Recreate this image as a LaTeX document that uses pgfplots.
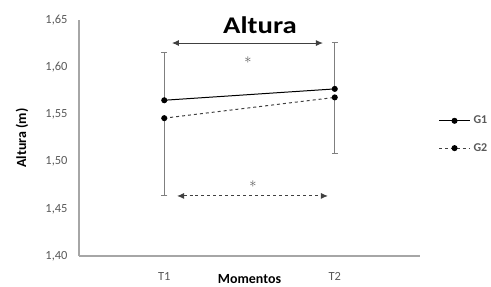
\documentclass[border=0pt]{standalone}
\usepackage{pgfplots}
\pgfplotsset{compat=1.18}
\usepackage{fontspec}
\setmainfont{Carlito}
\usetikzlibrary{arrows.meta}
\definecolor{axgray}{HTML}{A6A6A6}
\definecolor{txtgray}{HTML}{595959}
\definecolor{ebgray}{HTML}{7F7F7F}
\begin{document}
\begin{tikzpicture}
\useasboundingbox (0,0) rectangle (491bp,287bp);
\node[font=\bfseries\fontsize{24}{28}\selectfont, xscale=1.2] at (260bp,262bp) {Altura};
\begin{axis}[
  at={(79bp,31bp)}, anchor=south west,
  scale only axis, width=341bp, height=236bp,
  xmin=0, xmax=2, ymin=1.40, ymax=1.65,
  axis x line*=bottom, axis y line*=left,
  axis line style={axgray, line width=1.2pt, -},
  xtick={0.5,1.5}, xticklabels={T1,T2},
  ytick={1.40,1.45,1.50,1.55,1.60,1.65},
  major tick length=0pt,
  /pgf/number format/.cd, fixed, fixed zerofill, precision=2, use comma, assume math mode=true,
  /pgfplots/.cd,
  tick label style={font=\fontsize{12.5}{14}\selectfont, text=txtgray},
  yticklabel style={xshift=-8bp},
  xticklabel style={yshift=-13bp},
  xlabel={\textbf{Momentos}}, ylabel={\textbf{Altura (m)}},
  label style={font=\fontsize{14}{16}\selectfont},
  xlabel style={at={(axis description cs:0.5,0)}, anchor=center, yshift=-23bp},
  ylabel style={at={(axis description cs:0,0.5)}, anchor=center, rotate=0, yshift=57bp},
  clip=false,
  legend image code/.code={
    \draw[#1] (0bp,0bp) -- (31bp,0bp);
    \draw[mark repeat=2, mark phase=2, #1] plot coordinates {(0bp,0bp) (15.5bp,0bp) (31bp,0bp)};
  },
  legend style={draw=none, fill=none, at={(1.045,0.515)}, anchor=west,
    font=\fontsize{12}{14}\selectfont\bfseries, text=txtgray, row sep=14bp,
    nodes={inner xsep=3bp}},
  legend cell align=left,
]
\addplot[black, line width=1pt, mark=*, mark size=2.5bp,
  error bars/.cd, y dir=plus, y explicit, error bar style={ebgray, line width=1pt}, error mark options={rotate=90, mark size=3bp, ebgray, line width=1pt}]
  coordinates {(0.5,1.565) +- (0,0.051) (1.5,1.577) +- (0,0.049)};
\addlegendentry{G1}
\addplot[black!75, dashed, line width=1pt, mark=*, mark options={solid, black}, mark size=2.5bp,
  error bars/.cd, y dir=minus, y explicit, error bar style={ebgray, line width=1pt, solid}, error mark options={rotate=90, mark size=3bp, ebgray, line width=1pt, solid}]
  coordinates {(0.5,1.546) +- (0,0.082) (1.5,1.568) +- (0,0.059)};
\addlegendentry{G2}
\draw[black!75, line width=1pt, {Latex[length=7bp,width=6bp]}-{Latex[length=7bp,width=6bp]}] (axis cs:0.545,1.6256) -- (axis cs:1.431,1.6256);
\node[text=black!65, font=\fontsize{14}{16}\selectfont] at (axis cs:0.991,1.6076) {$\ast$};
\draw[black!75, line width=1pt, dashed, {Latex[length=7bp,width=6bp]}-{Latex[length=7bp,width=6bp]}] (axis cs:0.575,1.4636) -- (axis cs:1.460,1.4636);
\node[text=black!65, font=\fontsize{14}{16}\selectfont] at (axis cs:1.02,1.4763) {$\ast$};
\end{axis}
\end{tikzpicture}
\end{document}
